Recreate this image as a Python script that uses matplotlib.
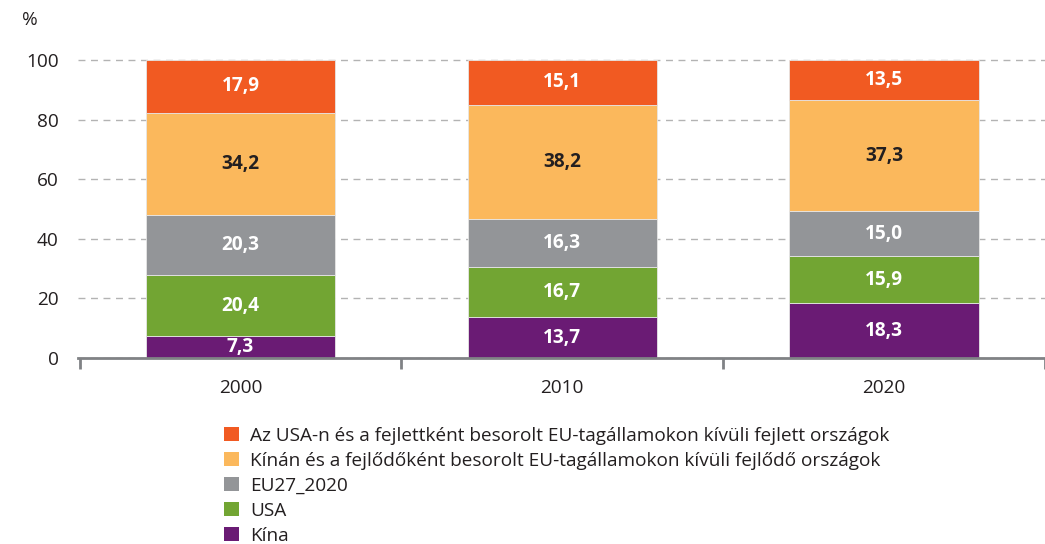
import matplotlib.pyplot as plt
import numpy as np
from matplotlib.patches import Patch

plt.rcParams['font.family'] = ['Open Sans', 'DejaVu Sans']

years = ["2000", "2010", "2020"]
kina = [7.3, 13.7, 18.3]
usa = [20.4, 16.7, 15.9]
eu27 = [20.3, 16.3, 15.0]
fejlodo = [34.2, 38.2, 37.3]
fejlett = [17.9, 15.1, 13.5]

series = [
    ("Kína", kina, "#6a1b74", "white"),
    ("USA", usa, "#72a533", "white"),
    ("EU27_2020", eu27, "#939598", "white"),
    ("Kínán és a fejlődőként besorolt EU-tagállamokon kívüli fejlődő országok", fejlodo, "#fbb85c", "#231f20"),
    ("Az USA-n és a fejlettként besorolt EU-tagállamokon kívüli fejlett országok", fejlett, "#f15a22", "white"),
]

fs = 13.7

fig = plt.figure(figsize=(10.45, 5.44), dpi=100)
W, H = 1045, 544
ax = fig.add_axes([78 / W, (H - 358) / H, 1 - 78 / W, (358 - 40) / H])

x = np.arange(len(years)) + 0.5
bottom = np.zeros(len(years))
for name, vals, color, tcolor in series:
    vals = np.array(vals)
    ax.bar(x, vals, width=0.588, bottom=bottom, color=color, edgecolor="#e6e6e6",
           linewidth=0.6, zorder=2)
    for xi, b, v in zip(x, bottom, vals):
        ax.text(xi, b + v / 2, f"{v:.1f}".replace(".", ","), ha="center", va="center",
                color=tcolor, fontsize=fs, fontweight="bold", zorder=3)
    bottom += vals

ax.set_xlim(-0.005, 967 / 325 - 0.005)
ax.set_ylim(0, 100 * 318 / 298)
ax.set_yticks([0, 20, 40, 60, 80, 100])
ax.yaxis.grid(True, linestyle=(0, (5, 4)), color="#b3b3b3", linewidth=1, zorder=1)
ax.set_axisbelow(True)
for s in ["top", "right", "left"]:
    ax.spines[s].set_visible(False)
ax.spines["bottom"].set_color("#808285")
ax.spines["bottom"].set_linewidth(2)
ax.tick_params(axis="y", length=0, labelsize=fs, pad=14, colors="#231f20")

ax.set_xticks([0, 1, 2, 3], minor=False)
ax.set_xticklabels([])
ax.tick_params(axis="x", which="major", length=8, width=2, color="#808285", direction="out")
ax.set_xticks(x, minor=True)
ax.set_xticklabels(years, minor=True)
ax.tick_params(axis="x", which="minor", length=0, labelsize=fs, pad=15, labelcolor="#231f20")

fig.text(30 / W, 1 - 20 / H, "%", ha="center", va="center", fontsize=fs, color="#231f20")

handles = [Patch(facecolor=c, edgecolor="none", label=n) for n, _, c, _ in series[::-1]]
fig.legend(handles=handles, loc="upper left", bbox_to_anchor=(216 / W, 1 - 419 / H),
           frameon=False, fontsize=fs, handlelength=0.8, handleheight=0.8,
           handletextpad=0.6, labelspacing=0.37, borderaxespad=0, labelcolor="#231f20")

fig.savefig("out.png", dpi=100)
